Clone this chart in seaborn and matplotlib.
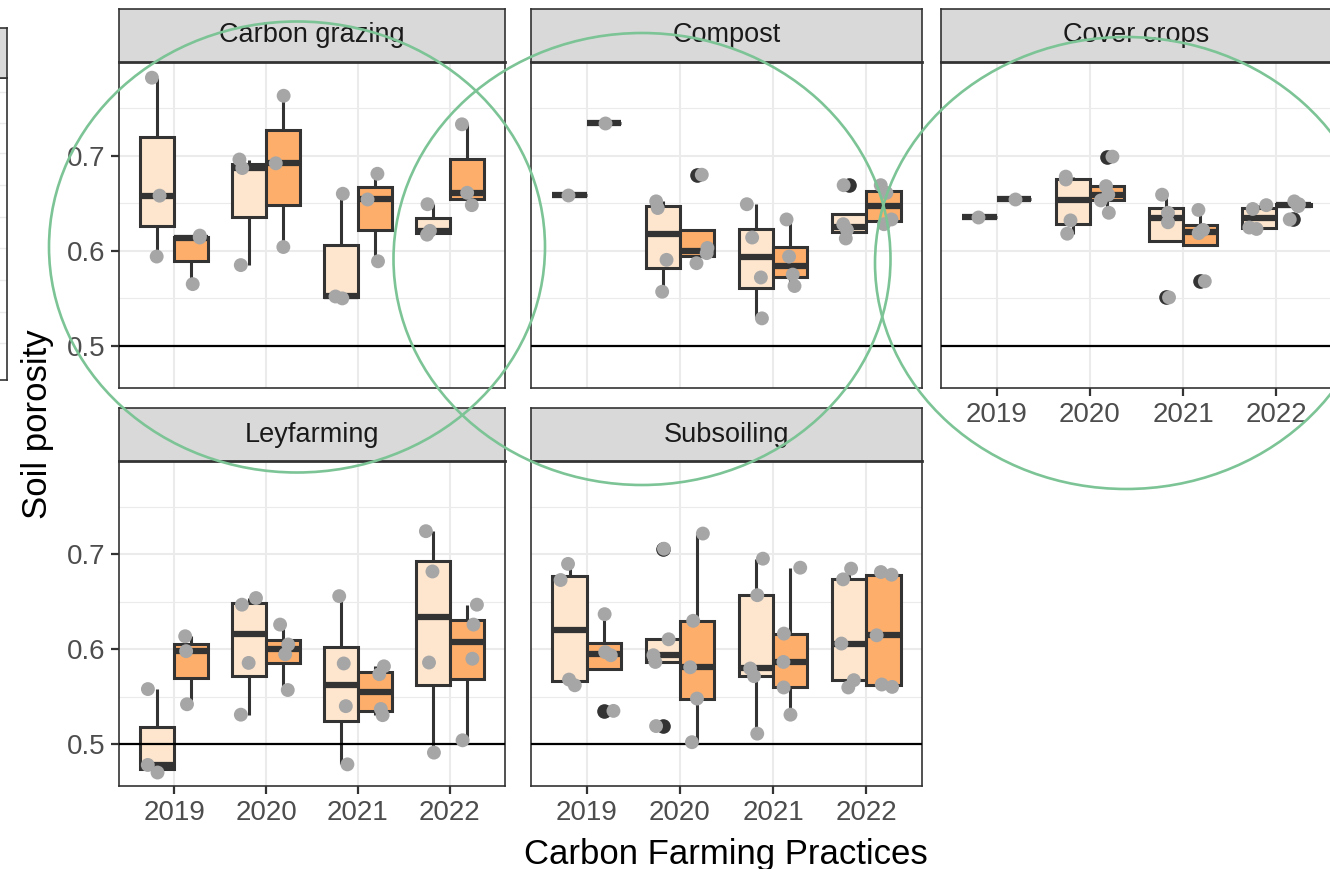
import numpy as np
import pandas as pd
import seaborn as sns
import matplotlib.pyplot as plt
from matplotlib.patches import Ellipse

# values, one list per year (2019..2022)
practices = ['Carbon grazing', 'Compost', 'Cover crops', 'Leyfarming', 'Subsoiling']
years = ['2019', '2020', '2021', '2022']
groups = ['Reference', 'Carbon farming']

carbon_grazing_ref = [[0.594, 0.658, 0.782], [0.585, 0.687, 0.696],
                      [0.550, 0.552, 0.660], [0.617, 0.621, 0.649]]
carbon_grazing_cfp = [[0.565, 0.614, 0.616], [0.604, 0.692, 0.763],
                      [0.589, 0.654, 0.681], [0.648, 0.661, 0.733]]

compost_ref = [[0.659], [0.557, 0.5905, 0.645, 0.652],
               [0.529, 0.572, 0.614, 0.649], [0.613, 0.622, 0.628, 0.669]]
compost_cfp = [[0.734], [0.587, 0.5976, 0.603, 0.680],
               [0.563, 0.575, 0.594, 0.633], [0.628, 0.633, 0.661, 0.669]]

cover_crops_ref = [[0.636], [0.618, 0.632, 0.675, 0.678],
                   [0.551, 0.630, 0.640, 0.659], [0.623, 0.6245, 0.644, 0.648]]
cover_crops_cfp = [[0.655], [0.640, 0.653, 0.659, 0.668, 0.699],
                   [0.568, 0.6186, 0.622, 0.643], [0.633, 0.647, 0.648, 0.649, 0.652]]

leyfarming_ref = [[0.470, 0.478, 0.558], [0.531, 0.5856, 0.647, 0.654],
                  [0.4786, 0.540, 0.585, 0.656], [0.491, 0.586, 0.682, 0.7245]]
leyfarming_cfp = [[0.542, 0.598, 0.6137], [0.557, 0.5947, 0.605, 0.626],
                  [0.5305, 0.537, 0.5737, 0.582], [0.504, 0.590, 0.626, 0.647]]

subsoiling_ref = [[0.562, 0.568, 0.673, 0.690], [0.519, 0.5866, 0.5937, 0.6105, 0.706],
                  [0.511, 0.5716, 0.5797, 0.657, 0.6955], [0.5597, 0.5674, 0.606, 0.6737, 0.685]]
subsoiling_cfp = [[0.535, 0.5937, 0.597, 0.637], [0.502, 0.548, 0.581, 0.630, 0.722],
                  [0.531, 0.5597, 0.5866, 0.6165, 0.686], [0.5603, 0.5628, 0.6147, 0.6786, 0.6814]]

y_ticks = [0.5, 0.6, 0.7]
threshold = 0.5

series = [(carbon_grazing_ref, carbon_grazing_cfp), (compost_ref, compost_cfp),
          (cover_crops_ref, cover_crops_cfp), (leyfarming_ref, leyfarming_cfp),
          (subsoiling_ref, subsoiling_cfp)]

rows = []
for p, pair in zip(practices, series):
    for g, vals in zip(groups, pair):
        for yr, v in zip(years, vals):
            for x in v:
                rows.append((p, yr, g, x))
df = pd.DataFrame(rows, columns=['practice', 'year', 'group', 'porosity'])

# figure layout in pixels (x0, y0, x1, y1)
W, H = 1330, 869
panel_px = {
    'Carbon grazing': (119, 62, 505, 388),
    'Compost': (531, 62, 922, 388),
    'Cover crops': (941, 62, 1332, 388),
    'Leyfarming': (119, 461, 505, 786),
    'Subsoiling': (531, 461, 922, 786),
}
strip_h = 53
show_x = {'Cover crops', 'Leyfarming', 'Subsoiling'}
show_y = {'Carbon grazing', 'Leyfarming'}

fill_cols = {'Reference': '#FEE6CE', 'Carbon farming': '#FDAE6B'}
dark = '#333333'


def px_rect(x0, y0, x1, y1):
    return [x0 / W, 1 - y1 / H, (x1 - x0) / W, (y1 - y0) / H]


plt.rcParams['font.family'] = ['Liberation Sans', 'DejaVu Sans']
fig = plt.figure(figsize=(W / 100, H / 100), dpi=100)
np.random.seed(3)

for p in practices:
    x0, y0, x1, y1 = panel_px[p]
    ax = fig.add_axes(px_rect(x0, y0, x1, y1))
    sub = df[df['practice'] == p]

    sns.boxplot(data=sub, x='year', y='porosity', hue='group', order=years,
                hue_order=groups, palette=fill_cols, saturation=1, width=0.74,
                gap=0.0, linecolor=dark, linewidth=2.2, showcaps=False,
                legend=False,
                medianprops={'color': dark, 'linewidth': 4.5},
                flierprops={'marker': 'o', 'markerfacecolor': dark,
                            'markeredgecolor': dark, 'markersize': 9.5},
                ax=ax)
    ax.axhline(threshold, color='black', lw=1.6, zorder=3)
    sns.stripplot(data=sub, x='year', y='porosity', hue='group', order=years,
                  hue_order=groups, dodge=True, jitter=0.2,
                  palette={g: '#A6A6A6' for g in groups}, size=10,
                  linewidth=0, legend=False, ax=ax, zorder=5)

    ax.set_xlim(-0.6, 3.6)
    ax.set_ylim(0.4558, 0.7985)
    ax.set_yticks(y_ticks)
    ax.set_yticklabels([f'{t:.1f}' for t in y_ticks])
    ax.set_yticks([0.55, 0.65, 0.75], minor=True)
    ax.grid(True, which='major', color='#EBEBEB', lw=1.5)
    ax.grid(True, which='minor', axis='y', color='#EBEBEB', lw=0.8)
    ax.set_axisbelow(True)
    ax.set_xlabel('')
    ax.set_ylabel('')
    for s in ax.spines.values():
        s.set_color(dark)
        s.set_linewidth(1.2)
    ax.tick_params(which='minor', length=0)
    ax.tick_params(which='major', labelsize=20, labelcolor='#4D4D4D',
                   color=dark, length=6, width=1.6, pad=4)
    if p not in show_x:
        ax.tick_params(axis='x', bottom=False, labelbottom=False)
    if p not in show_y:
        ax.tick_params(axis='y', left=False, labelleft=False)

    # facet strip
    sax = fig.add_axes(px_rect(x0, y0 - strip_h, x1, y0))
    sax.set_facecolor('#D9D9D9')
    sax.set_xticks([])
    sax.set_yticks([])
    for s in sax.spines.values():
        s.set_color(dark)
        s.set_linewidth(1.2)
    sax.spines['bottom'].set_linewidth(2)
    sax.text(0.5, 0.5, p, ha='center', va='center', fontsize=19.5,
             color='#1A1A1A', transform=sax.transAxes)

# cut-off panel at the left edge
lax = fig.add_axes(px_rect(-120, 78, 7, 380))
lax.set_xticks([])
lax.set_yticks([])
lax.set_ylim(380, 78)
for yy in [92, 123, 153, 185, 217, 248, 280, 312, 343]:
    lax.axhline(yy, color='#EBEBEB', lw=1)
for s in lax.spines.values():
    s.set_color(dark)
    s.set_linewidth(1.2)
lsx = fig.add_axes(px_rect(-120, 28, 7, 78))
lsx.set_facecolor('#D9D9D9')
lsx.set_xticks([])
lsx.set_yticks([])
for s in lsx.spines.values():
    s.set_color(dark)
    s.set_linewidth(1.2)

fig.text(38 / W, 1 - 424 / H, 'Soil porosity', rotation=90, ha='center',
         va='center', fontsize=25)
fig.text(726 / W, 1 - 864 / H, 'Carbon Farming Practices', ha='center',
         va='baseline', fontsize=25)

# green highlight circles drawn over the figure
oax = fig.add_axes([0, 0, 1, 1], facecolor='none')
oax.set_xlim(0, W)
oax.set_ylim(H, 0)
oax.axis('off')
for cx, cy, ew, eh in [(297, 247, 496, 451), (642, 259, 497, 452), (1126, 263, 502, 452)]:
    oax.add_patch(Ellipse((cx, cy), ew, eh, fill=False, edgecolor='#7CC495', lw=1.9))

plt.savefig('out.png', dpi=100)
